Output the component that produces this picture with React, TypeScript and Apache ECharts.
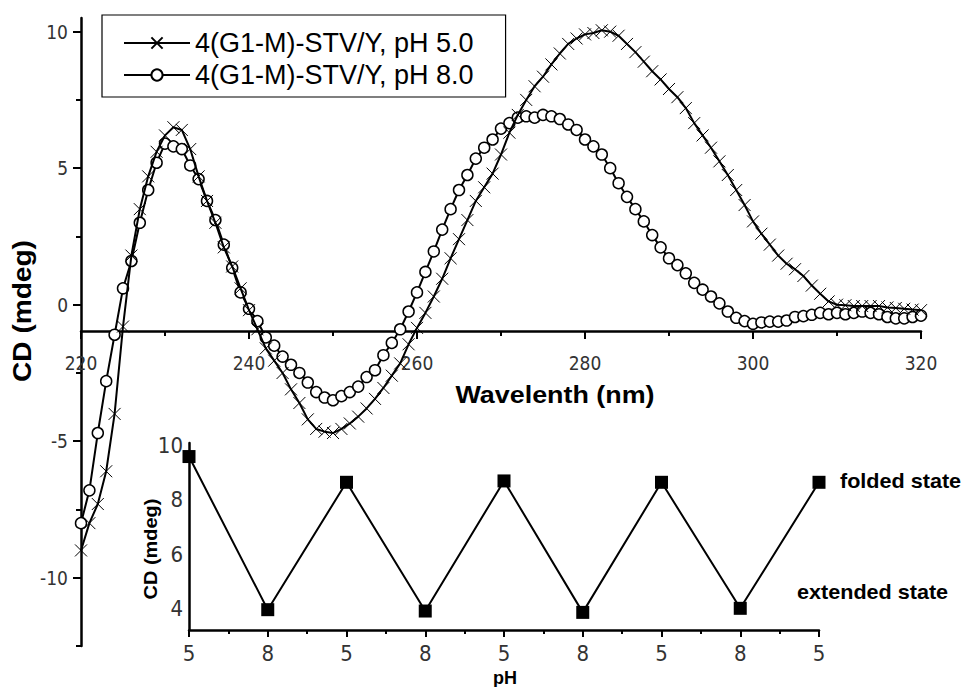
import React, { useEffect, useRef } from 'react';
import * as echarts from 'echarts';

const wavelengths = [
  220, 221, 222, 223, 224, 225, 226, 227, 228, 229,
  230, 231, 232, 233, 234, 235, 236, 237, 238, 239,
  240, 241, 242, 243, 244, 245, 246, 247, 248, 249,
  250, 251, 252, 253, 254, 255, 256, 257, 258, 259,
  260, 261, 262, 263, 264, 265, 266, 267, 268, 269,
  270, 271, 272, 273, 274, 275, 276, 277, 278, 279,
  280, 281, 282, 283, 284, 285, 286, 287, 288, 289,
  290, 291, 292, 293, 294, 295, 296, 297, 298, 299,
  300, 301, 302, 303, 304, 305, 306, 307, 308, 309,
  310, 311, 312, 313, 314, 315, 316, 317, 318, 319,
  320,
];

const cdPH5 = [
  -9.0, -8.0, -7.3, -6.1, -4.0, -0.8, 1.8, 3.5, 4.7, 5.6,
  6.2, 6.5, 6.4, 5.7, 4.7, 3.8, 3.0, 2.1, 1.4, 0.6,
  -0.2, -0.9, -1.6, -2.05, -2.5, -3.1, -3.6, -4.2, -4.55, -4.65,
  -4.7, -4.55, -4.35, -4.1, -3.8, -3.45, -3.05, -2.6, -2.15, -1.45,
  -0.85, -0.3, 0.3, 0.95, 1.7, 2.4, 3.1, 3.8, 4.3, 4.8,
  5.5, 6.3, 6.95, 7.5, 8.0, 8.35, 8.8, 9.2, 9.55, 9.75,
  9.9, 9.95, 10.05, 10.0, 9.85, 9.55, 9.25, 8.9, 8.55, 8.25,
  7.9, 7.6, 7.2, 6.65, 6.2, 5.75, 5.25, 4.75, 4.2, 3.65,
  3.05, 2.6, 2.2, 1.8, 1.5, 1.3, 1.05, 0.7, 0.4, 0.12,
  0.0, -0.02, -0.05, -0.05, -0.05, -0.05, -0.1, -0.12, -0.15, -0.18,
  -0.2,
];

const cdPH8 = [
  -8.0, -6.8, -4.7, -2.8, -1.1, 0.6, 1.6, 3.0, 4.2, 5.2,
  5.9, 5.8, 5.7, 5.1, 4.6, 3.8, 3.1, 2.2, 1.35, 0.45,
  -0.15, -0.6, -1.2, -1.5, -1.9, -2.2, -2.5, -2.85, -3.2, -3.4,
  -3.5, -3.35, -3.2, -3.0, -2.65, -2.4, -1.85, -1.4, -0.9, -0.25,
  0.45, 1.2, 1.95, 2.75, 3.5, 4.2, 4.75, 5.35, 5.75, 6.05,
  6.45, 6.65, 6.85, 6.9, 6.85, 6.95, 6.9, 6.8, 6.6, 6.4,
  6.05, 5.8, 5.5, 5.0, 4.45, 3.95, 3.5, 3.05, 2.55, 2.1,
  1.7, 1.45, 1.15, 0.8, 0.55, 0.3, 0.05, -0.25, -0.48, -0.6,
  -0.7, -0.65, -0.62, -0.62, -0.58, -0.45, -0.42, -0.37, -0.3, -0.35,
  -0.3, -0.35, -0.3, -0.25, -0.3, -0.35, -0.45, -0.5, -0.5, -0.45,
  -0.4,
];

const seriesNames = ['4(G1-M)-STV/Y, pH 5.0', '4(G1-M)-STV/Y, pH 8.0'];

const cyclePH = ['5', '8', '5', '8', '5', '8', '5', '8', '5'];
const cycleCD = [9.6, 3.95, 8.65, 3.9, 8.7, 3.85, 8.65, 4.0, 8.65];

const mainYMajorTicks = [-10, -5, 0, 5, 10];
const mainYMinorTicks = [-12.5, -7.5, -2.5, 2.5, 7.5];
const insetYTicks = [4, 6, 8, 10];

const TICK_FONT = "'Liberation Sans Narrow','Arial Narrow','DejaVu Sans Condensed','Liberation Sans',Arial,sans-serif";
const TITLE_FONT = "'Liberation Sans',Arial,sans-serif";

export default function App() {
  const ref = useRef<HTMLDivElement>(null);

  useEffect(() => {
    if (!ref.current) return;
    const chart = echarts.init(ref.current, null, { renderer: 'svg' });
    const axisLineStyle = { color: '#000', width: 2.5 };
    const tickLineStyle = { color: '#000', width: 2 };
    const tickLabel = { fontFamily: TICK_FONT, color: '#333' };

    const crossSymbol = 'path://M0,0L10,10M0,10L10,0';

    const titleText = (
      text: string, x: number, y: number, size: number,
      opts: { rotation?: number; align?: string; scaleX?: number } = {},
    ) => ({
      type: 'text',
      x,
      y,
      rotation: opts.rotation ?? 0,
      scaleX: opts.scaleX ?? 1,
      style: {
        text,
        font: `bold ${size}px ${TITLE_FONT}`,
        fill: '#000',
        align: opts.align ?? 'center',
        verticalAlign: 'middle',
        textAlign: opts.align ?? 'center',
        textVerticalAlign: 'middle',
      },
    });

    chart.setOption({
      animation: false,
      backgroundColor: '#fff',
      grid: [
        { left: 81, top: 18, width: 840, height: 628 },
        { left: 81, top: 18, width: 840, height: 628 },
        { left: 81, top: 330, width: 840, height: 1 },
        { left: 189, top: 443, width: 630, height: 187 },
      ],
      xAxis: [
        { gridIndex: 0, type: 'value', min: 220, max: 320, show: false },
        { gridIndex: 1, type: 'value', min: 220, max: 320, show: false },
        {
          gridIndex: 2, type: 'value', min: 220, max: 320, interval: 20,
          axisLine: { show: true, onZero: false, lineStyle: axisLineStyle },
          axisTick: { show: true, length: 8, lineStyle: tickLineStyle },
          minorTick: { show: true, splitNumber: 2, length: 5, lineStyle: tickLineStyle },
          axisLabel: { ...tickLabel, fontSize: 19, margin: 22 },
          splitLine: { show: false },
          minorSplitLine: { show: false },
        },
        {
          gridIndex: 3, type: 'value', min: 0, max: 8, interval: 1,
          axisLine: { show: true, onZero: false, lineStyle: axisLineStyle },
          axisTick: { show: true, length: 7, lineStyle: tickLineStyle },
          minorTick: { show: true, splitNumber: 2, length: 4, lineStyle: tickLineStyle },
          axisLabel: {
            ...tickLabel, fontSize: 22, margin: 12,
            formatter: (v: number) => cyclePH[Math.round(v)] ?? '',
          },
          splitLine: { show: false },
        },
      ],
      yAxis: [
        {
          gridIndex: 0, type: 'value', min: -12.5, max: 10.5,
          axisLine: { show: true, onZero: false, lineStyle: axisLineStyle },
          axisTick: { show: true, customValues: mainYMajorTicks, length: 8, lineStyle: tickLineStyle },
          axisLabel: { ...tickLabel, customValues: mainYMajorTicks, fontSize: 19, margin: 13 },
          splitLine: { show: false },
        },
        {
          gridIndex: 1, type: 'value', min: -12.5, max: 10.5,
          axisLine: { show: false },
          axisTick: { show: true, customValues: mainYMinorTicks, length: 5, lineStyle: tickLineStyle },
          axisLabel: { show: false },
          splitLine: { show: false },
        },
        { gridIndex: 2, type: 'value', min: 0, max: 1, show: false },
        {
          gridIndex: 3, type: 'value', min: 3.2, max: 10.1,
          axisLine: { show: true, onZero: false, lineStyle: axisLineStyle },
          axisTick: { show: false },
          axisLabel: { ...tickLabel, customValues: insetYTicks, fontSize: 22, margin: 6 },
          splitLine: { show: false },
        },
      ],
      legend: {
        data: seriesNames,
        orient: 'vertical',
        left: 102,
        top: 15,
        itemWidth: 66,
        itemHeight: 14,
        itemGap: 4,
        padding: [14, 32, 8, 21],
        borderColor: '#000',
        borderWidth: 1.2,
        selectedMode: false,
        textStyle: { fontFamily: TITLE_FONT, fontSize: 27, color: '#000', lineHeight: 28 },
      },
      series: [
        {
          type: 'line',
          name: seriesNames[0],
          xAxisIndex: 0,
          yAxisIndex: 0,
          data: wavelengths.map((w, i) => [w, cdPH5[i]]),
          symbol: crossSymbol,
          symbolSize: 12,
          lineStyle: { color: '#000', width: 2 },
          itemStyle: { color: '#000', borderColor: '#000', borderWidth: 1 },
          z: 3,
        },
        {
          type: 'line',
          name: seriesNames[1],
          xAxisIndex: 0,
          yAxisIndex: 0,
          data: wavelengths.map((w, i) => [w, cdPH8[i]]),
          symbol: 'circle',
          symbolSize: 11,
          lineStyle: { color: '#000', width: 2 },
          itemStyle: { color: '#fff', borderColor: '#000', borderWidth: 1.5 },
          z: 2,
        },
        {
          type: 'line',
          name: 'cycle',
          xAxisIndex: 3,
          yAxisIndex: 3,
          data: cycleCD.map((v, i) => [i, v]),
          symbol: 'rect',
          symbolSize: 13,
          lineStyle: { color: '#000', width: 2 },
          itemStyle: { color: '#000' },
        },
      ],
      graphic: [
        titleText('Wavelenth (nm)', 555, 395, 24, { scaleX: 1.12 }),
        titleText('CD (mdeg)', 22, 311, 26, { rotation: Math.PI / 2, scaleX: 1.08 }),
        titleText('CD (mdeg)', 150, 549, 19, { rotation: Math.PI / 2, scaleX: 1.05 }),
        titleText('pH', 505, 678, 18),
        titleText('folded state', 840, 481, 20, { align: 'left', scaleX: 1.08 }),
        titleText('extended state', 797, 592, 20, { align: 'left', scaleX: 1.08 }),
      ],
    });

    return () => chart.dispose();
  }, []);

  return (
    <div
      ref={ref}
      style={{ position: 'fixed', left: 0, top: 0, width: 968, height: 687, background: '#fff' }}
    />
  );
}
